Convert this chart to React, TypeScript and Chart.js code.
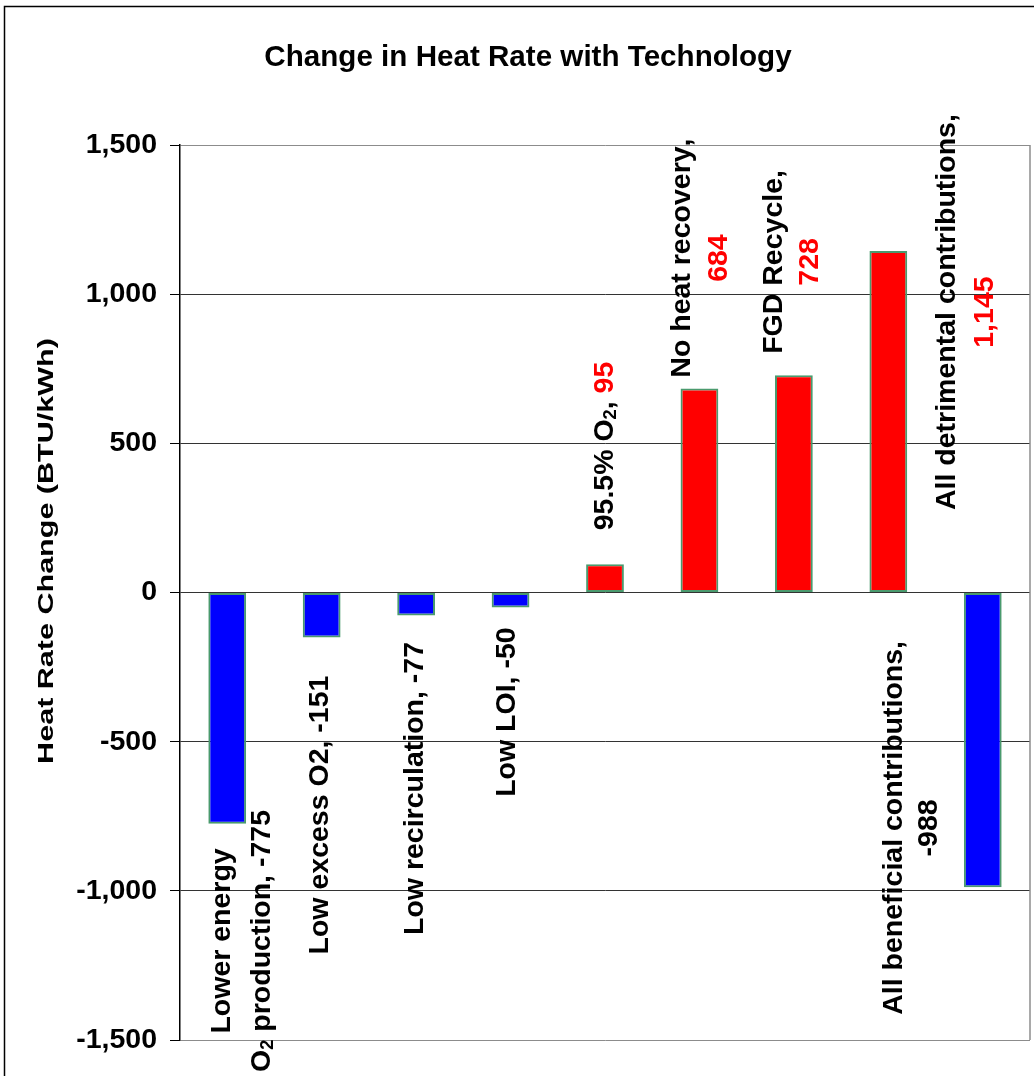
import React, { useEffect, useRef } from "react";
import { Chart, registerables } from "chart.js";

Chart.register(...registerables);

// ---------- data ----------
const categories: string[] = [
  "Lower energy\nO_2 production",
  "Low excess O2",
  "Low recirculation",
  "Low LOI",
  "95.5% O_2",
  "No heat recovery",
  "FGD Recycle",
  "All detrimental contributions",
  "All beneficial contributions",
];
const values: number[] = [-775, -151, -77, -50, 95, 684, 728, 1145, -988];
const yTicks: number[] = [-1500, -1000, -500, 0, 500, 1000, 1500];
const chartTitle = "Change in Heat Rate with Technology";
const yAxisTitle = "Heat Rate Change (BTU/kWh)";

// ---------- styles / layout ----------
const RED = "#FF0000";
const BLUE = "#0000FF";
const BLACK = "#000000";
const FONT = '"Liberation Sans", Arial, Helvetica, sans-serif';
const LABEL_SIZE = 28.5;

// label anchor: category offset (dx), value-axis position (v), line height, value on its own line
const labelLayout = [
  { dx: 0.135, v: -1168, lh: 40, newLine: false },
  { dx: -0.039, v: -746, lh: 37, newLine: false },
  { dx: -0.033, v: -657, lh: 37, newLine: false },
  { dx: -0.059, v: -401, lh: 37, newLine: false },
  { dx: -0.021, v: 491, lh: 37, newLine: false },
  { dx: -0.01, v: 1121, lh: 37, newLine: true },
  { dx: -0.041, v: 1108, lh: 36, newLine: true },
  { dx: 0.801, v: 940, lh: 38, newLine: true },
  { dx: -0.776, v: -789, lh: 35, newLine: true },
];

type Run = { text: string; color: string; sub?: boolean };

function parseRuns(s: string, color: string): Run[] {
  const runs: Run[] = [];
  const parts = s.split(/_(\d)/);
  parts.forEach((p, idx) => {
    if (p === "") return;
    if (idx % 2 === 1) runs.push({ text: p, color, sub: true });
    else runs.push({ text: p, color });
  });
  return runs;
}

function buildLines(i: number): Run[][] {
  const lines = categories[i].split("\n").map((l) => parseRuns(l, BLACK));
  const v = values[i];
  const vText = v.toLocaleString("en-US");
  const vColor = v > 0 ? RED : BLACK;
  const last = lines[lines.length - 1];
  last.push({ text: ",", color: BLACK });
  if (labelLayout[i].newLine) {
    lines.push([{ text: vText, color: vColor }]);
  } else {
    last.push({ text: " ", color: BLACK });
    last.push({ text: vText, color: vColor });
  }
  return lines;
}

const labelPlugin = {
  id: "barLabels",
  afterDatasetsDraw(chart: any) {
    const { ctx, scales } = chart;
    const xs = scales.x;
    const ys = scales.y;
    const fs = LABEL_SIZE;
    const subFs = fs * 0.64;
    const capH = fs * 0.716;
    values.forEach((_, i) => {
      const lay = labelLayout[i];
      const cx = xs.getPixelForValue(i + lay.dx);
      const cy = ys.getPixelForValue(lay.v);
      const lines = buildLines(i);
      ctx.save();
      ctx.translate(cx, cy);
      ctx.rotate(-Math.PI / 2);
      ctx.textBaseline = "alphabetic";
      ctx.textAlign = "left";
      const n = lines.length;
      lines.forEach((runs, li) => {
        const off = (li - (n - 1) / 2) * lay.lh;
        const base = off + capH / 2;
        let w = 0;
        runs.forEach((r) => {
          ctx.font = `bold ${r.sub ? subFs : fs}px ${FONT}`;
          w += ctx.measureText(r.text).width;
        });
        let x = -w / 2;
        runs.forEach((r) => {
          ctx.font = `bold ${r.sub ? subFs : fs}px ${FONT}`;
          ctx.fillStyle = r.color;
          ctx.fillText(r.text, x, r.sub ? base + fs * 0.1 : base);
          x += ctx.measureText(r.text).width;
        });
      });
      ctx.restore();
    });
  },
};

const framePlugin = {
  id: "frame",
  afterDraw(chart: any) {
    const { ctx, chartArea } = chart;
    ctx.save();
    // plot area right border
    ctx.strokeStyle = "#8c8c8c";
    ctx.lineWidth = 1.5;
    ctx.beginPath();
    ctx.moveTo(chartArea.right, chartArea.top);
    ctx.lineTo(chartArea.right, chartArea.bottom);
    ctx.stroke();
    // outer chart border
    ctx.strokeStyle = "#000";
    ctx.lineWidth = 1.5;
    ctx.strokeRect(4.5, 6.5, 1100, 1200);
    // title
    ctx.fillStyle = "#000";
    ctx.font = `bold 29.6px ${FONT}`;
    ctx.textAlign = "center";
    ctx.textBaseline = "alphabetic";
    ctx.fillText(chartTitle, 528, 66);
    // y-axis title
    ctx.translate(47, 551);
    ctx.rotate(-Math.PI / 2);
    ctx.scale(1.42, 1);
    ctx.font = `bold 21.5px ${FONT}`;
    ctx.textBaseline = "middle";
    ctx.fillText(yAxisTitle, 0, 0);
    ctx.restore();
  },
};

export default function App() {
  const ref = useRef<HTMLCanvasElement | null>(null);
  useEffect(() => {
    if (!ref.current) return;
    const chart = new Chart(ref.current, {
      type: "bar",
      data: {
        labels: categories.map((c) => c.replace(/_/g, "").replace("\n", " ")),
        datasets: [
          {
            data: values,
            backgroundColor: values.map((v) => (v >= 0 ? RED : BLUE)),
            borderColor: "#4a9a6e",
            borderWidth: 2,
            borderSkipped: false,
            barPercentage: 0.8,
            categoryPercentage: 0.5,
          },
        ],
      },
      options: {
        animation: false,
        responsive: false,
        devicePixelRatio: 1,
        layout: { padding: { left: 0, top: 145, right: 4, bottom: 36 } },
        plugins: {
          legend: { display: false },
          title: { display: false },
          tooltip: { enabled: false },
        },
        scales: {
          x: { display: false },
          y: {
            min: -1500,
            max: 1500,
            afterFit: (scale: any) => {
              scale.width = 180;
            },
            afterBuildTicks: (scale: any) => {
              scale.ticks = yTicks.map((v) => ({ value: v }));
            },
            grid: {
              color: (c: any) =>
                c.tick && Math.abs(c.tick.value) === 1500 ? "#8c8c8c" : "#333333",
              lineWidth: 1,
              tickLength: 10,
              tickColor: "#000",
              drawTicks: true,
            },
            border: { display: true, color: "#000", width: 1.5 },
            ticks: {
              padding: 13,
              color: "#000",
              font: { family: FONT, size: 28.5, weight: "bold" },
              callback: (v: any) => Number(v).toLocaleString("en-US"),
            },
          },
        },
      },
      plugins: [labelPlugin, framePlugin],
    });
    return () => chart.destroy();
  }, []);
  return (
    <div
      style={{
        position: "fixed",
        left: 0,
        top: 0,
        width: 1034,
        height: 1076,
        background: "#fff",
        overflow: "hidden",
      }}
    >
      <canvas ref={ref} width={1034} height={1076} />
    </div>
  );
}
